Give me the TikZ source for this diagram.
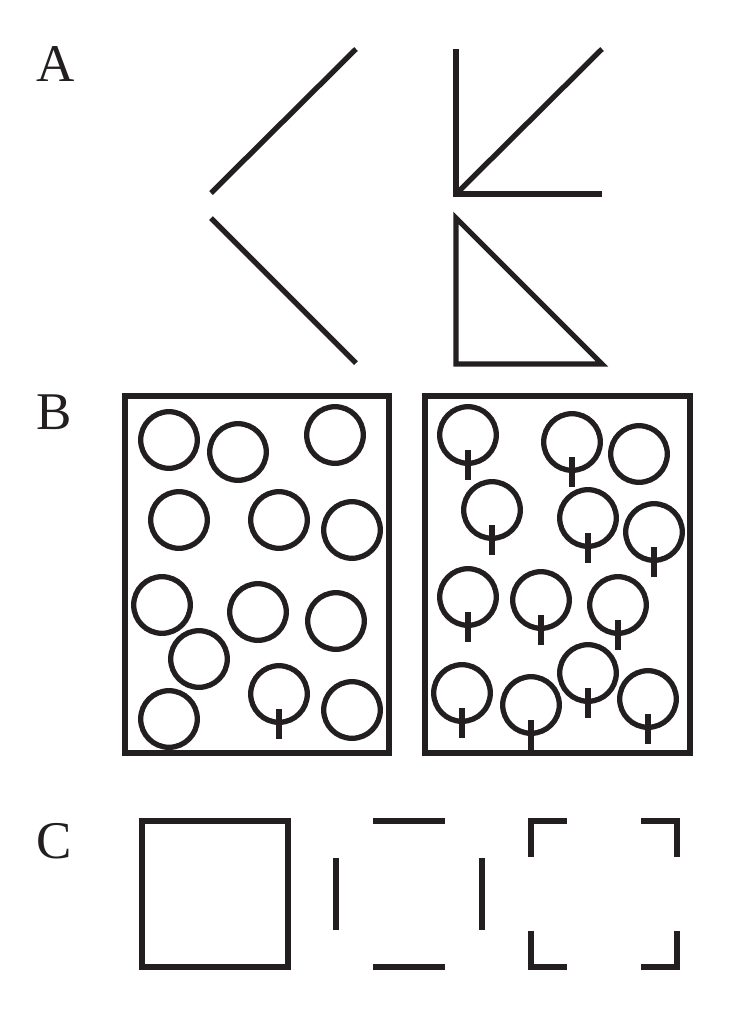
\documentclass[tikz,border=0pt]{standalone}
\usepackage{fontspec}
\setmainfont{Liberation Serif}
\usepackage{xcolor}
\usepackage{tikz}
\definecolor{ink}{RGB}{35,31,32}

\begin{document}
\begin{tikzpicture}[
  x=1pt, y=-1pt,
  pen/.style={draw=ink, line width=5.3pt},
  ring/.style={draw=ink, line width=5.3pt},
  tag/.style={font=\fontsize{53pt}{53pt}\selectfont, text=ink, inner sep=0pt, anchor=base west},
]
\def\rr{28.3pt}     % ring radius
\def\tickup{15}     % tick starts below centre
\def\tickdn{45}     % tick ends below centre

\useasboundingbox (0,0) rectangle (750,1018);

% A
\node[tag] (tagA) at (36,81) {A};
\draw[pen] (211,193) -- (356,49);
\draw[pen] (211,218) -- (356,363);
\draw[pen] (456,49) -- (456,194) -- (602,194);
\draw[pen] (602,49) -- (456,194);
\draw[pen] (456,218) -- (456,364) -- (602,364) -- cycle;

% B
\node[tag] (tagB) at (36,429) {B};
\draw[pen] (125,396) rectangle (389,753);
\draw[pen] (425,396) rectangle (690,753);
\foreach \x/\y in {169/440, 238/452, 335/435, 179/520, 279/520, 352/530,
                   162/605, 258/612, 336/621, 199/659, 169/719, 352/710}
  \draw[ring] (\x,\y) circle[radius=\rr];
\foreach \x/\y in {279/694} {
  \draw[ring] (\x,\y) circle[radius=\rr];
  \draw[pen] (\x,\y+\tickup) -- (\x,\y+\tickdn);
}
\draw[ring] (639,454) circle[radius=\rr];
\foreach \x/\y in {468/435, 572/442, 492/510, 588/518, 654/532, 468/597,
                   541/600, 618/605, 462/693, 531/705, 588/673, 648/699} {
  \draw[ring] (\x,\y) circle[radius=\rr];
  \draw[pen] (\x,\y+\tickup) -- (\x,\y+\tickdn);
}

% C
\node[tag] (tagC) at (36,858) {C};
\draw[pen] (142,821) rectangle (288,967);
\draw[pen] (373,821) -- (445,821);
\draw[pen] (373,967) -- (445,967);
\draw[pen] (336,858) -- (336,930);
\draw[pen] (482,858) -- (482,930);
\draw[pen] (531,857) -- (531,821) -- (567,821);
\draw[pen] (641,821) -- (677,821) -- (677,857);
\draw[pen] (531,931) -- (531,967) -- (567,967);
\draw[pen] (641,967) -- (677,967) -- (677,931);
\end{tikzpicture}
\end{document}
